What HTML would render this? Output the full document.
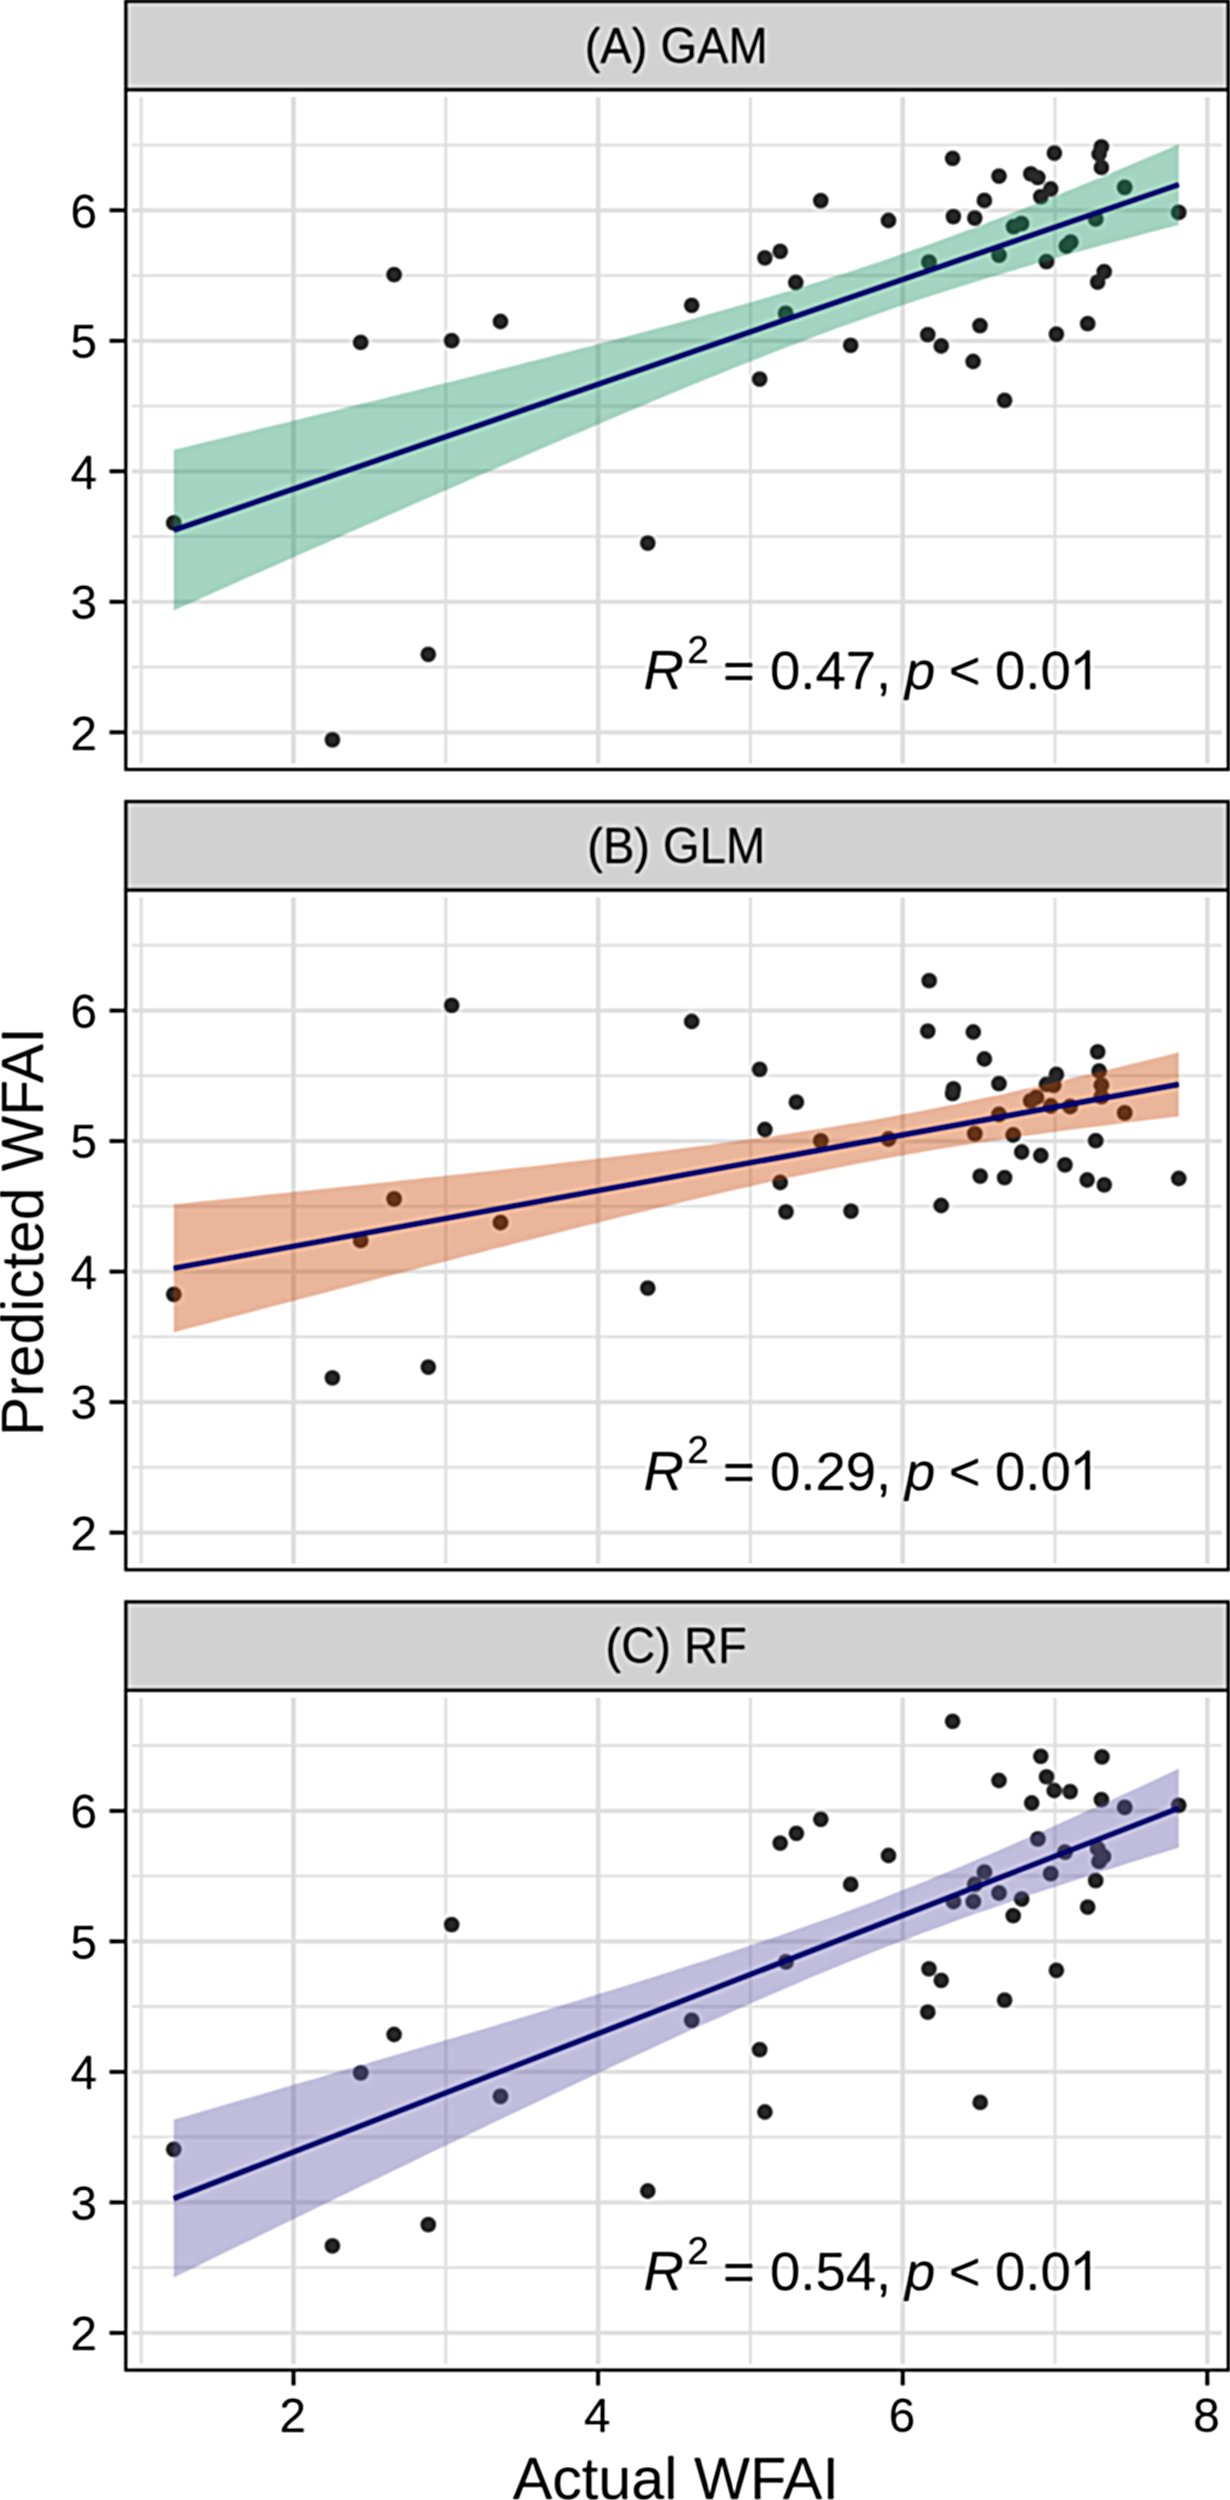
<!DOCTYPE html><html><head><meta charset="utf-8"><style>html,body{margin:0;padding:0;background:#fff;}svg{display:block}text{font-family:"Liberation Sans", sans-serif;}</style></head><body>
<svg width="1230" height="2500" viewBox="0 0 1230 2500">
<defs><filter id="usm" filterUnits="userSpaceOnUse" x="-30" y="-30" width="1290" height="2560" color-interpolation-filters="sRGB"><feGaussianBlur in="SourceGraphic" stdDeviation="0.9" result="s"/><feGaussianBlur in="s" stdDeviation="2.2" result="b"/><feComposite in="s" in2="b" operator="arithmetic" k1="0" k2="1.8" k3="-0.8" k4="0"/></filter></defs>
<g filter="url(#usm)">
<rect x="-30" y="-30" width="1290" height="2560" fill="#fff"/>
<line x1="131.3" x2="1222.3" y1="667.0" y2="667.0" stroke="#e3e3e3" stroke-width="3.0"/>
<line x1="131.3" x2="1222.3" y1="536.5" y2="536.5" stroke="#e3e3e3" stroke-width="3.0"/>
<line x1="131.3" x2="1222.3" y1="406.1" y2="406.1" stroke="#e3e3e3" stroke-width="3.0"/>
<line x1="131.3" x2="1222.3" y1="275.6" y2="275.6" stroke="#e3e3e3" stroke-width="3.0"/>
<line x1="131.3" x2="1222.3" y1="145.1" y2="145.1" stroke="#e3e3e3" stroke-width="3.0"/>
<line x1="141.2" x2="141.2" y1="96.9" y2="764.0" stroke="#e3e3e3" stroke-width="3.2"/>
<line x1="445.8" x2="445.8" y1="96.9" y2="764.0" stroke="#e3e3e3" stroke-width="3.2"/>
<line x1="750.4" x2="750.4" y1="96.9" y2="764.0" stroke="#e3e3e3" stroke-width="3.2"/>
<line x1="1055.0" x2="1055.0" y1="96.9" y2="764.0" stroke="#e3e3e3" stroke-width="3.2"/>
<line x1="131.3" x2="1222.3" y1="732.3" y2="732.3" stroke="#e0e0e0" stroke-width="4.3"/>
<line x1="131.3" x2="1222.3" y1="601.8" y2="601.8" stroke="#e0e0e0" stroke-width="4.3"/>
<line x1="131.3" x2="1222.3" y1="471.3" y2="471.3" stroke="#e0e0e0" stroke-width="4.3"/>
<line x1="131.3" x2="1222.3" y1="340.8" y2="340.8" stroke="#e0e0e0" stroke-width="4.3"/>
<line x1="131.3" x2="1222.3" y1="210.3" y2="210.3" stroke="#e0e0e0" stroke-width="4.3"/>
<line x1="293.5" x2="293.5" y1="96.9" y2="764.0" stroke="#e0e0e0" stroke-width="4.8"/>
<line x1="598.1" x2="598.1" y1="96.9" y2="764.0" stroke="#e0e0e0" stroke-width="4.8"/>
<line x1="902.7" x2="902.7" y1="96.9" y2="764.0" stroke="#e0e0e0" stroke-width="4.8"/>
<line x1="1207.3" x2="1207.3" y1="96.9" y2="764.0" stroke="#e0e0e0" stroke-width="4.8"/>
<circle cx="173.7" cy="522.9" r="7.9" fill="#2b2b2b"/>
<circle cx="332.4" cy="739.8" r="7.9" fill="#2b2b2b"/>
<circle cx="360.7" cy="342.4" r="7.9" fill="#2b2b2b"/>
<circle cx="394.1" cy="274.7" r="7.9" fill="#2b2b2b"/>
<circle cx="428.3" cy="654.3" r="7.9" fill="#2b2b2b"/>
<circle cx="451.7" cy="340.7" r="7.9" fill="#2b2b2b"/>
<circle cx="500.5" cy="321.5" r="7.9" fill="#2b2b2b"/>
<circle cx="647.8" cy="543.1" r="7.9" fill="#2b2b2b"/>
<circle cx="691.7" cy="305.3" r="7.9" fill="#2b2b2b"/>
<circle cx="759.7" cy="379.1" r="7.9" fill="#2b2b2b"/>
<circle cx="764.9" cy="257.8" r="7.9" fill="#2b2b2b"/>
<circle cx="780.2" cy="251.3" r="7.9" fill="#2b2b2b"/>
<circle cx="785.7" cy="313.4" r="7.9" fill="#2b2b2b"/>
<circle cx="795.8" cy="282.5" r="7.9" fill="#2b2b2b"/>
<circle cx="820.8" cy="200.6" r="7.9" fill="#2b2b2b"/>
<circle cx="850.7" cy="345.3" r="7.9" fill="#2b2b2b"/>
<circle cx="888.5" cy="220.5" r="7.9" fill="#2b2b2b"/>
<circle cx="927.8" cy="334.7" r="7.9" fill="#2b2b2b"/>
<circle cx="929.0" cy="262.2" r="7.9" fill="#2b2b2b"/>
<circle cx="941.2" cy="346.0" r="7.9" fill="#2b2b2b"/>
<circle cx="952.6" cy="158.3" r="7.9" fill="#2b2b2b"/>
<circle cx="953.4" cy="216.6" r="7.9" fill="#2b2b2b"/>
<circle cx="973.1" cy="361.5" r="7.9" fill="#2b2b2b"/>
<circle cx="974.8" cy="218.1" r="7.9" fill="#2b2b2b"/>
<circle cx="980.0" cy="325.6" r="7.9" fill="#2b2b2b"/>
<circle cx="984.4" cy="200.4" r="7.9" fill="#2b2b2b"/>
<circle cx="999.0" cy="176.2" r="7.9" fill="#2b2b2b"/>
<circle cx="999.0" cy="255.1" r="7.9" fill="#2b2b2b"/>
<circle cx="1004.6" cy="400.3" r="7.9" fill="#2b2b2b"/>
<circle cx="1013.7" cy="226.6" r="7.9" fill="#2b2b2b"/>
<circle cx="1021.4" cy="223.7" r="7.9" fill="#2b2b2b"/>
<circle cx="1030.8" cy="173.9" r="7.9" fill="#2b2b2b"/>
<circle cx="1037.9" cy="177.6" r="7.9" fill="#2b2b2b"/>
<circle cx="1040.8" cy="196.7" r="7.9" fill="#2b2b2b"/>
<circle cx="1050.7" cy="189.0" r="7.9" fill="#2b2b2b"/>
<circle cx="1054.4" cy="153.2" r="7.9" fill="#2b2b2b"/>
<circle cx="1046.5" cy="261.6" r="7.9" fill="#2b2b2b"/>
<circle cx="1056.4" cy="334.1" r="7.9" fill="#2b2b2b"/>
<circle cx="1066.4" cy="246.0" r="7.9" fill="#2b2b2b"/>
<circle cx="1070.7" cy="242.2" r="7.9" fill="#2b2b2b"/>
<circle cx="1087.7" cy="323.7" r="7.9" fill="#2b2b2b"/>
<circle cx="1095.7" cy="218.9" r="7.9" fill="#2b2b2b"/>
<circle cx="1101.4" cy="146.9" r="7.9" fill="#2b2b2b"/>
<circle cx="1099.1" cy="154.0" r="7.9" fill="#2b2b2b"/>
<circle cx="1101.4" cy="167.4" r="7.9" fill="#2b2b2b"/>
<circle cx="1104.2" cy="271.6" r="7.9" fill="#2b2b2b"/>
<circle cx="1097.7" cy="282.1" r="7.9" fill="#2b2b2b"/>
<circle cx="1124.7" cy="187.3" r="7.9" fill="#2b2b2b"/>
<circle cx="1178.8" cy="212.4" r="7.9" fill="#2b2b2b"/>
<polygon points="173.7,449.8 186.4,446.7 199.1,443.6 211.9,440.5 224.6,437.4 237.3,434.3 250.0,431.2 262.8,428.1 275.5,425.0 288.2,421.9 300.9,418.8 313.7,415.6 326.4,412.5 339.1,409.4 351.8,406.2 364.5,403.1 377.3,399.9 390.0,396.8 402.7,393.6 415.4,390.5 428.2,387.3 440.9,384.1 453.6,380.9 466.3,377.7 479.0,374.5 491.8,371.3 504.5,368.1 517.2,364.9 529.9,361.6 542.7,358.4 555.4,355.1 568.1,351.8 580.8,348.5 593.6,345.2 606.3,341.9 619.0,338.5 631.7,335.1 644.4,331.7 657.2,328.3 669.9,324.9 682.6,321.4 695.3,317.9 708.1,314.3 720.8,310.7 733.5,307.1 746.2,303.4 758.9,299.7 771.7,296.0 784.4,292.2 797.1,288.3 809.8,284.4 822.6,280.4 835.3,276.3 848.0,272.2 860.7,268.0 873.5,263.8 886.2,259.4 898.9,255.0 911.6,250.6 924.3,246.0 937.1,241.4 949.8,236.7 962.5,232.0 975.2,227.2 988.0,222.3 1000.7,217.4 1013.4,212.4 1026.1,207.4 1038.8,202.4 1051.6,197.2 1064.3,192.1 1077.0,186.9 1089.7,181.7 1102.5,176.4 1115.2,171.1 1127.9,165.8 1140.6,160.5 1153.4,155.1 1166.1,149.7 1178.8,144.3 1178.8,224.9 1166.1,228.2 1153.4,231.6 1140.6,234.9 1127.9,238.4 1115.2,241.8 1102.5,245.2 1089.7,248.7 1077.0,252.3 1064.3,255.8 1051.6,259.4 1038.8,263.1 1026.1,266.7 1013.4,270.5 1000.7,274.2 988.0,278.1 975.2,282.0 962.5,285.9 949.8,289.9 937.1,294.0 924.3,298.1 911.6,302.3 898.9,306.6 886.2,311.0 873.5,315.4 860.7,319.9 848.0,324.4 835.3,329.1 822.6,333.8 809.8,338.5 797.1,343.4 784.4,348.2 771.7,353.2 758.9,358.2 746.2,363.2 733.5,368.3 720.8,373.4 708.1,378.6 695.3,383.8 682.6,389.0 669.9,394.3 657.2,399.6 644.4,404.9 631.7,410.3 619.0,415.6 606.3,421.0 593.6,426.4 580.8,431.9 568.1,437.3 555.4,442.8 542.7,448.3 529.9,453.7 517.2,459.3 504.5,464.8 491.8,470.3 479.0,475.8 466.3,481.4 453.6,486.9 440.9,492.5 428.2,498.1 415.4,503.6 402.7,509.2 390.0,514.8 377.3,520.4 364.5,526.0 351.8,531.6 339.1,537.2 326.4,542.9 313.7,548.5 300.9,554.1 288.2,559.7 275.5,565.4 262.8,571.0 250.0,576.6 237.3,582.3 224.6,587.9 211.9,593.6 199.1,599.2 186.4,604.9 173.7,610.6" fill="#199164" fill-opacity="0.4"/>
<line x1="173.7" y1="530.2" x2="1178.8" y2="184.6" stroke="#000070" stroke-width="5.2"/>
<text y="689.3" font-size="54.5" fill="#000"><tspan x="643.4" font-style="italic" font-size="56">R</tspan><tspan x="687.3" y="663.0" font-size="38.8">2</tspan><tspan x="723" y="689.3">=</tspan><tspan x="770">0.47,</tspan><tspan x="905" font-style="italic">p</tspan><tspan x="948.7">&lt;</tspan><tspan x="995">0.0</tspan></text>
<path transform="translate(0,0.0)" d="M1085.2 689.3 L1089.9 689.3 L1089.9 650.4 L1086.4 650.4 C1084.6 654 1080.6 657.8 1075.2 660.4 L1075.2 665.2 C1079.4 663.4 1083 660.6 1085.2 658.2 Z" fill="#000"/>
<rect x="125.8" y="89.7" width="1102.5" height="679.8" fill="none" stroke="#111" stroke-width="3.2"/>
<rect x="125.8" y="1.2" width="1102.5" height="88.5" fill="#d1d1d1" stroke="#111" stroke-width="3.2"/>
<text transform="translate(676.2,62.5) scale(1,1.06)" x="0" y="0" font-size="47.1" text-anchor="middle" fill="#000">(A) GAM</text>
<line x1="109.6" x2="125.8" y1="732.3" y2="732.3" stroke="#111" stroke-width="4"/>
<text x="96.9" y="749.6" font-size="47.6" text-anchor="end" fill="#000">2</text>
<line x1="109.6" x2="125.8" y1="601.8" y2="601.8" stroke="#111" stroke-width="4"/>
<text x="96.9" y="619.1" font-size="47.6" text-anchor="end" fill="#000">3</text>
<line x1="109.6" x2="125.8" y1="471.3" y2="471.3" stroke="#111" stroke-width="4"/>
<text x="96.9" y="488.6" font-size="47.6" text-anchor="end" fill="#000">4</text>
<line x1="109.6" x2="125.8" y1="340.8" y2="340.8" stroke="#111" stroke-width="4"/>
<text x="96.9" y="358.1" font-size="47.6" text-anchor="end" fill="#000">5</text>
<line x1="109.6" x2="125.8" y1="210.3" y2="210.3" stroke="#111" stroke-width="4"/>
<text x="96.9" y="227.6" font-size="47.6" text-anchor="end" fill="#000">6</text>
<line x1="131.3" x2="1222.3" y1="1467.3" y2="1467.3" stroke="#e3e3e3" stroke-width="3.0"/>
<line x1="131.3" x2="1222.3" y1="1336.8" y2="1336.8" stroke="#e3e3e3" stroke-width="3.0"/>
<line x1="131.3" x2="1222.3" y1="1206.3" y2="1206.3" stroke="#e3e3e3" stroke-width="3.0"/>
<line x1="131.3" x2="1222.3" y1="1075.8" y2="1075.8" stroke="#e3e3e3" stroke-width="3.0"/>
<line x1="131.3" x2="1222.3" y1="945.3" y2="945.3" stroke="#e3e3e3" stroke-width="3.0"/>
<line x1="141.2" x2="141.2" y1="897.2" y2="1564.3" stroke="#e3e3e3" stroke-width="3.2"/>
<line x1="445.8" x2="445.8" y1="897.2" y2="1564.3" stroke="#e3e3e3" stroke-width="3.2"/>
<line x1="750.4" x2="750.4" y1="897.2" y2="1564.3" stroke="#e3e3e3" stroke-width="3.2"/>
<line x1="1055.0" x2="1055.0" y1="897.2" y2="1564.3" stroke="#e3e3e3" stroke-width="3.2"/>
<line x1="131.3" x2="1222.3" y1="1532.6" y2="1532.6" stroke="#e0e0e0" stroke-width="4.3"/>
<line x1="131.3" x2="1222.3" y1="1402.1" y2="1402.1" stroke="#e0e0e0" stroke-width="4.3"/>
<line x1="131.3" x2="1222.3" y1="1271.6" y2="1271.6" stroke="#e0e0e0" stroke-width="4.3"/>
<line x1="131.3" x2="1222.3" y1="1141.1" y2="1141.1" stroke="#e0e0e0" stroke-width="4.3"/>
<line x1="131.3" x2="1222.3" y1="1010.6" y2="1010.6" stroke="#e0e0e0" stroke-width="4.3"/>
<line x1="293.5" x2="293.5" y1="897.2" y2="1564.3" stroke="#e0e0e0" stroke-width="4.8"/>
<line x1="598.1" x2="598.1" y1="897.2" y2="1564.3" stroke="#e0e0e0" stroke-width="4.8"/>
<line x1="902.7" x2="902.7" y1="897.2" y2="1564.3" stroke="#e0e0e0" stroke-width="4.8"/>
<line x1="1207.3" x2="1207.3" y1="897.2" y2="1564.3" stroke="#e0e0e0" stroke-width="4.8"/>
<circle cx="173.7" cy="1294.3" r="7.9" fill="#2b2b2b"/>
<circle cx="332.4" cy="1377.8" r="7.9" fill="#2b2b2b"/>
<circle cx="360.7" cy="1240.4" r="7.9" fill="#2b2b2b"/>
<circle cx="394.1" cy="1198.8" r="7.9" fill="#2b2b2b"/>
<circle cx="428.3" cy="1367.1" r="7.9" fill="#2b2b2b"/>
<circle cx="451.7" cy="1005.3" r="7.9" fill="#2b2b2b"/>
<circle cx="500.5" cy="1222.5" r="7.9" fill="#2b2b2b"/>
<circle cx="647.8" cy="1288.2" r="7.9" fill="#2b2b2b"/>
<circle cx="691.7" cy="1021.5" r="7.9" fill="#2b2b2b"/>
<circle cx="759.7" cy="1069.3" r="7.9" fill="#2b2b2b"/>
<circle cx="764.9" cy="1129.5" r="7.9" fill="#2b2b2b"/>
<circle cx="780.2" cy="1182.5" r="7.9" fill="#2b2b2b"/>
<circle cx="786.0" cy="1211.8" r="7.9" fill="#2b2b2b"/>
<circle cx="796.4" cy="1102.2" r="7.9" fill="#2b2b2b"/>
<circle cx="820.8" cy="1140.9" r="7.9" fill="#2b2b2b"/>
<circle cx="851.0" cy="1211.1" r="7.9" fill="#2b2b2b"/>
<circle cx="888.5" cy="1139.0" r="7.9" fill="#2b2b2b"/>
<circle cx="927.8" cy="1031.1" r="7.9" fill="#2b2b2b"/>
<circle cx="929.2" cy="980.7" r="7.9" fill="#2b2b2b"/>
<circle cx="941.2" cy="1205.5" r="7.9" fill="#2b2b2b"/>
<circle cx="952.6" cy="1093.7" r="7.9" fill="#2b2b2b"/>
<circle cx="953.4" cy="1088.9" r="7.9" fill="#2b2b2b"/>
<circle cx="973.3" cy="1032.0" r="7.9" fill="#2b2b2b"/>
<circle cx="974.8" cy="1133.6" r="7.9" fill="#2b2b2b"/>
<circle cx="980.2" cy="1176.2" r="7.9" fill="#2b2b2b"/>
<circle cx="984.4" cy="1059.0" r="7.9" fill="#2b2b2b"/>
<circle cx="999.0" cy="1083.7" r="7.9" fill="#2b2b2b"/>
<circle cx="999.0" cy="1114.5" r="7.9" fill="#2b2b2b"/>
<circle cx="1004.6" cy="1177.7" r="7.9" fill="#2b2b2b"/>
<circle cx="1013.2" cy="1135.0" r="7.9" fill="#2b2b2b"/>
<circle cx="1021.7" cy="1152.0" r="7.9" fill="#2b2b2b"/>
<circle cx="1030.8" cy="1100.8" r="7.9" fill="#2b2b2b"/>
<circle cx="1036.5" cy="1097.4" r="7.9" fill="#2b2b2b"/>
<circle cx="1040.8" cy="1155.5" r="7.9" fill="#2b2b2b"/>
<circle cx="1046.5" cy="1084.3" r="7.9" fill="#2b2b2b"/>
<circle cx="1050.7" cy="1106.0" r="7.9" fill="#2b2b2b"/>
<circle cx="1053.6" cy="1085.2" r="7.9" fill="#2b2b2b"/>
<circle cx="1056.4" cy="1074.4" r="7.9" fill="#2b2b2b"/>
<circle cx="1065.0" cy="1164.8" r="7.9" fill="#2b2b2b"/>
<circle cx="1070.1" cy="1106.5" r="7.9" fill="#2b2b2b"/>
<circle cx="1087.2" cy="1180.0" r="7.9" fill="#2b2b2b"/>
<circle cx="1095.7" cy="1140.7" r="7.9" fill="#2b2b2b"/>
<circle cx="1097.7" cy="1051.9" r="7.9" fill="#2b2b2b"/>
<circle cx="1099.1" cy="1071.0" r="7.9" fill="#2b2b2b"/>
<circle cx="1101.4" cy="1085.2" r="7.9" fill="#2b2b2b"/>
<circle cx="1101.4" cy="1096.6" r="7.9" fill="#2b2b2b"/>
<circle cx="1104.2" cy="1184.8" r="7.9" fill="#2b2b2b"/>
<circle cx="1124.7" cy="1112.8" r="7.9" fill="#2b2b2b"/>
<circle cx="1178.8" cy="1178.5" r="7.9" fill="#2b2b2b"/>
<polygon points="173.7,1204.2 186.4,1202.9 199.1,1201.6 211.9,1200.3 224.6,1199.0 237.3,1197.7 250.0,1196.4 262.8,1195.0 275.5,1193.7 288.2,1192.4 300.9,1191.1 313.7,1189.7 326.4,1188.4 339.1,1187.1 351.8,1185.7 364.5,1184.4 377.3,1183.0 390.0,1181.7 402.7,1180.3 415.4,1179.0 428.2,1177.6 440.9,1176.2 453.6,1174.8 466.3,1173.5 479.0,1172.1 491.8,1170.7 504.5,1169.3 517.2,1167.8 529.9,1166.4 542.7,1165.0 555.4,1163.5 568.1,1162.1 580.8,1160.6 593.6,1159.1 606.3,1157.6 619.0,1156.1 631.7,1154.6 644.4,1153.0 657.2,1151.4 669.9,1149.9 682.6,1148.2 695.3,1146.6 708.1,1144.9 720.8,1143.2 733.5,1141.5 746.2,1139.7 758.9,1137.9 771.7,1136.1 784.4,1134.2 797.1,1132.3 809.8,1130.3 822.6,1128.3 835.3,1126.2 848.0,1124.1 860.7,1121.9 873.5,1119.7 886.2,1117.4 898.9,1115.1 911.6,1112.7 924.3,1110.2 937.1,1107.7 949.8,1105.1 962.5,1102.5 975.2,1099.8 988.0,1097.1 1000.7,1094.4 1013.4,1091.6 1026.1,1088.7 1038.8,1085.8 1051.6,1082.9 1064.3,1080.0 1077.0,1077.0 1089.7,1074.0 1102.5,1070.9 1115.2,1067.9 1127.9,1064.8 1140.6,1061.7 1153.4,1058.6 1166.1,1055.5 1178.8,1052.3 1178.8,1116.6 1166.1,1118.1 1153.4,1119.6 1140.6,1121.1 1127.9,1122.7 1115.2,1124.3 1102.5,1125.9 1089.7,1127.5 1077.0,1129.1 1064.3,1130.8 1051.6,1132.5 1038.8,1134.2 1026.1,1136.0 1013.4,1137.8 1000.7,1139.7 988.0,1141.6 975.2,1143.5 962.5,1145.5 949.8,1147.5 937.1,1149.6 924.3,1151.8 911.6,1154.0 898.9,1156.2 886.2,1158.5 873.5,1160.9 860.7,1163.3 848.0,1165.8 835.3,1168.3 822.6,1170.9 809.8,1173.5 797.1,1176.2 784.4,1179.0 771.7,1181.7 758.9,1184.6 746.2,1187.4 733.5,1190.3 720.8,1193.2 708.1,1196.2 695.3,1199.2 682.6,1202.2 669.9,1205.2 657.2,1208.3 644.4,1211.4 631.7,1214.5 619.0,1217.6 606.3,1220.8 593.6,1223.9 580.8,1227.1 568.1,1230.3 555.4,1233.5 542.7,1236.7 529.9,1239.9 517.2,1243.1 504.5,1246.4 491.8,1249.6 479.0,1252.9 466.3,1256.1 453.6,1259.4 440.9,1262.7 428.2,1265.9 415.4,1269.2 402.7,1272.5 390.0,1275.8 377.3,1279.1 364.5,1282.4 351.8,1285.8 339.1,1289.1 326.4,1292.4 313.7,1295.7 300.9,1299.0 288.2,1302.4 275.5,1305.7 262.8,1309.0 250.0,1312.4 237.3,1315.7 224.6,1319.1 211.9,1322.4 199.1,1325.7 186.4,1329.1 173.7,1332.4" fill="#C84605" fill-opacity="0.4"/>
<line x1="173.7" y1="1268.3" x2="1178.8" y2="1084.4" stroke="#000070" stroke-width="5.2"/>
<text y="1489.6" font-size="54.5" fill="#000"><tspan x="643.4" font-style="italic" font-size="56">R</tspan><tspan x="687.3" y="1463.3" font-size="38.8">2</tspan><tspan x="723" y="1489.6">=</tspan><tspan x="770">0.29,</tspan><tspan x="905" font-style="italic">p</tspan><tspan x="948.7">&lt;</tspan><tspan x="995">0.0</tspan></text>
<path transform="translate(0,800.3)" d="M1085.2 689.3 L1089.9 689.3 L1089.9 650.4 L1086.4 650.4 C1084.6 654 1080.6 657.8 1075.2 660.4 L1075.2 665.2 C1079.4 663.4 1083 660.6 1085.2 658.2 Z" fill="#000"/>
<rect x="125.8" y="890.0" width="1102.5" height="679.8" fill="none" stroke="#111" stroke-width="3.2"/>
<rect x="125.8" y="801.5" width="1102.5" height="88.5" fill="#d1d1d1" stroke="#111" stroke-width="3.2"/>
<text transform="translate(676.2,862.8) scale(1,1.06)" x="0" y="0" font-size="47.1" text-anchor="middle" fill="#000">(B) GLM</text>
<line x1="109.6" x2="125.8" y1="1532.6" y2="1532.6" stroke="#111" stroke-width="4"/>
<text x="96.9" y="1549.9" font-size="47.6" text-anchor="end" fill="#000">2</text>
<line x1="109.6" x2="125.8" y1="1402.1" y2="1402.1" stroke="#111" stroke-width="4"/>
<text x="96.9" y="1419.4" font-size="47.6" text-anchor="end" fill="#000">3</text>
<line x1="109.6" x2="125.8" y1="1271.6" y2="1271.6" stroke="#111" stroke-width="4"/>
<text x="96.9" y="1288.9" font-size="47.6" text-anchor="end" fill="#000">4</text>
<line x1="109.6" x2="125.8" y1="1141.1" y2="1141.1" stroke="#111" stroke-width="4"/>
<text x="96.9" y="1158.4" font-size="47.6" text-anchor="end" fill="#000">5</text>
<line x1="109.6" x2="125.8" y1="1010.6" y2="1010.6" stroke="#111" stroke-width="4"/>
<text x="96.9" y="1027.9" font-size="47.6" text-anchor="end" fill="#000">6</text>
<line x1="131.3" x2="1222.3" y1="2267.6" y2="2267.6" stroke="#e3e3e3" stroke-width="3.0"/>
<line x1="131.3" x2="1222.3" y1="2137.1" y2="2137.1" stroke="#e3e3e3" stroke-width="3.0"/>
<line x1="131.3" x2="1222.3" y1="2006.6" y2="2006.6" stroke="#e3e3e3" stroke-width="3.0"/>
<line x1="131.3" x2="1222.3" y1="1876.1" y2="1876.1" stroke="#e3e3e3" stroke-width="3.0"/>
<line x1="131.3" x2="1222.3" y1="1745.6" y2="1745.6" stroke="#e3e3e3" stroke-width="3.0"/>
<line x1="141.2" x2="141.2" y1="1697.5" y2="2364.6" stroke="#e3e3e3" stroke-width="3.2"/>
<line x1="445.8" x2="445.8" y1="1697.5" y2="2364.6" stroke="#e3e3e3" stroke-width="3.2"/>
<line x1="750.4" x2="750.4" y1="1697.5" y2="2364.6" stroke="#e3e3e3" stroke-width="3.2"/>
<line x1="1055.0" x2="1055.0" y1="1697.5" y2="2364.6" stroke="#e3e3e3" stroke-width="3.2"/>
<line x1="131.3" x2="1222.3" y1="2332.9" y2="2332.9" stroke="#e0e0e0" stroke-width="4.3"/>
<line x1="131.3" x2="1222.3" y1="2202.4" y2="2202.4" stroke="#e0e0e0" stroke-width="4.3"/>
<line x1="131.3" x2="1222.3" y1="2071.9" y2="2071.9" stroke="#e0e0e0" stroke-width="4.3"/>
<line x1="131.3" x2="1222.3" y1="1941.4" y2="1941.4" stroke="#e0e0e0" stroke-width="4.3"/>
<line x1="131.3" x2="1222.3" y1="1810.9" y2="1810.9" stroke="#e0e0e0" stroke-width="4.3"/>
<line x1="293.5" x2="293.5" y1="1697.5" y2="2364.6" stroke="#e0e0e0" stroke-width="4.8"/>
<line x1="598.1" x2="598.1" y1="1697.5" y2="2364.6" stroke="#e0e0e0" stroke-width="4.8"/>
<line x1="902.7" x2="902.7" y1="1697.5" y2="2364.6" stroke="#e0e0e0" stroke-width="4.8"/>
<line x1="1207.3" x2="1207.3" y1="1697.5" y2="2364.6" stroke="#e0e0e0" stroke-width="4.8"/>
<circle cx="173.7" cy="2149.3" r="7.9" fill="#2b2b2b"/>
<circle cx="332.4" cy="2245.9" r="7.9" fill="#2b2b2b"/>
<circle cx="360.7" cy="2072.8" r="7.9" fill="#2b2b2b"/>
<circle cx="394.1" cy="2034.5" r="7.9" fill="#2b2b2b"/>
<circle cx="428.3" cy="2224.7" r="7.9" fill="#2b2b2b"/>
<circle cx="451.7" cy="1924.6" r="7.9" fill="#2b2b2b"/>
<circle cx="500.5" cy="2096.3" r="7.9" fill="#2b2b2b"/>
<circle cx="647.8" cy="2191.0" r="7.9" fill="#2b2b2b"/>
<circle cx="691.7" cy="2020.3" r="7.9" fill="#2b2b2b"/>
<circle cx="759.7" cy="2049.6" r="7.9" fill="#2b2b2b"/>
<circle cx="764.9" cy="2112.0" r="7.9" fill="#2b2b2b"/>
<circle cx="780.2" cy="1843.1" r="7.9" fill="#2b2b2b"/>
<circle cx="786.0" cy="1961.8" r="7.9" fill="#2b2b2b"/>
<circle cx="796.4" cy="1833.3" r="7.9" fill="#2b2b2b"/>
<circle cx="820.8" cy="1819.3" r="7.9" fill="#2b2b2b"/>
<circle cx="850.7" cy="1884.4" r="7.9" fill="#2b2b2b"/>
<circle cx="888.5" cy="1855.5" r="7.9" fill="#2b2b2b"/>
<circle cx="927.8" cy="2012.2" r="7.9" fill="#2b2b2b"/>
<circle cx="929.0" cy="1968.9" r="7.9" fill="#2b2b2b"/>
<circle cx="941.2" cy="1980.3" r="7.9" fill="#2b2b2b"/>
<circle cx="952.6" cy="1721.3" r="7.9" fill="#2b2b2b"/>
<circle cx="953.4" cy="1901.5" r="7.9" fill="#2b2b2b"/>
<circle cx="973.3" cy="1901.5" r="7.9" fill="#2b2b2b"/>
<circle cx="974.8" cy="1884.4" r="7.9" fill="#2b2b2b"/>
<circle cx="980.2" cy="2102.4" r="7.9" fill="#2b2b2b"/>
<circle cx="984.4" cy="1872.2" r="7.9" fill="#2b2b2b"/>
<circle cx="999.0" cy="1780.5" r="7.9" fill="#2b2b2b"/>
<circle cx="999.0" cy="1893.0" r="7.9" fill="#2b2b2b"/>
<circle cx="1004.6" cy="2000.2" r="7.9" fill="#2b2b2b"/>
<circle cx="1013.2" cy="1915.7" r="7.9" fill="#2b2b2b"/>
<circle cx="1021.7" cy="1899.2" r="7.9" fill="#2b2b2b"/>
<circle cx="1031.7" cy="1803.0" r="7.9" fill="#2b2b2b"/>
<circle cx="1037.9" cy="1838.9" r="7.9" fill="#2b2b2b"/>
<circle cx="1040.8" cy="1756.3" r="7.9" fill="#2b2b2b"/>
<circle cx="1050.7" cy="1873.6" r="7.9" fill="#2b2b2b"/>
<circle cx="1054.2" cy="1790.5" r="7.9" fill="#2b2b2b"/>
<circle cx="1046.5" cy="1776.8" r="7.9" fill="#2b2b2b"/>
<circle cx="1056.4" cy="1970.3" r="7.9" fill="#2b2b2b"/>
<circle cx="1065.0" cy="1852.2" r="7.9" fill="#2b2b2b"/>
<circle cx="1070.1" cy="1791.6" r="7.9" fill="#2b2b2b"/>
<circle cx="1087.7" cy="1907.2" r="7.9" fill="#2b2b2b"/>
<circle cx="1095.7" cy="1880.7" r="7.9" fill="#2b2b2b"/>
<circle cx="1102.0" cy="1756.9" r="7.9" fill="#2b2b2b"/>
<circle cx="1101.4" cy="1799.6" r="7.9" fill="#2b2b2b"/>
<circle cx="1097.7" cy="1848.5" r="7.9" fill="#2b2b2b"/>
<circle cx="1103.4" cy="1856.5" r="7.9" fill="#2b2b2b"/>
<circle cx="1099.1" cy="1861.4" r="7.9" fill="#2b2b2b"/>
<circle cx="1124.7" cy="1807.3" r="7.9" fill="#2b2b2b"/>
<circle cx="1178.8" cy="1805.3" r="7.9" fill="#2b2b2b"/>
<polygon points="173.7,2119.5 186.4,2115.9 199.1,2112.2 211.9,2108.5 224.6,2104.8 237.3,2101.1 250.0,2097.4 262.8,2093.7 275.5,2090.0 288.2,2086.3 300.9,2082.6 313.7,2078.9 326.4,2075.2 339.1,2071.5 351.8,2067.7 364.5,2064.0 377.3,2060.3 390.0,2056.5 402.7,2052.8 415.4,2049.0 428.2,2045.3 440.9,2041.5 453.6,2037.7 466.3,2034.0 479.0,2030.2 491.8,2026.4 504.5,2022.6 517.2,2018.7 529.9,2014.9 542.7,2011.1 555.4,2007.2 568.1,2003.3 580.8,1999.4 593.6,1995.5 606.3,1991.6 619.0,1987.7 631.7,1983.7 644.4,1979.7 657.2,1975.7 669.9,1971.7 682.6,1967.6 695.3,1963.5 708.1,1959.4 720.8,1955.2 733.5,1951.0 746.2,1946.8 758.9,1942.5 771.7,1938.2 784.4,1933.8 797.1,1929.3 809.8,1924.8 822.6,1920.3 835.3,1915.7 848.0,1911.0 860.7,1906.2 873.5,1901.4 886.2,1896.5 898.9,1891.5 911.6,1886.5 924.3,1881.4 937.1,1876.2 949.8,1871.0 962.5,1865.7 975.2,1860.3 988.0,1854.9 1000.7,1849.4 1013.4,1843.9 1026.1,1838.3 1038.8,1832.7 1051.6,1827.0 1064.3,1821.3 1077.0,1815.6 1089.7,1809.8 1102.5,1804.0 1115.2,1798.1 1127.9,1792.3 1140.6,1786.4 1153.4,1780.5 1166.1,1774.5 1178.8,1768.6 1178.8,1847.7 1166.1,1851.7 1153.4,1855.6 1140.6,1859.6 1127.9,1863.6 1115.2,1867.6 1102.5,1871.6 1089.7,1875.7 1077.0,1879.8 1064.3,1883.9 1051.6,1888.1 1038.8,1892.3 1026.1,1896.6 1013.4,1900.9 1000.7,1905.3 988.0,1909.7 975.2,1914.1 962.5,1918.6 949.8,1923.2 937.1,1927.9 924.3,1932.6 911.6,1937.4 898.9,1942.2 886.2,1947.1 873.5,1952.1 860.7,1957.2 848.0,1962.3 835.3,1967.5 822.6,1972.8 809.8,1978.1 797.1,1983.5 784.4,1988.9 771.7,1994.4 758.9,1999.9 746.2,2005.5 733.5,2011.2 720.8,2016.9 708.1,2022.6 695.3,2028.3 682.6,2034.1 669.9,2039.9 657.2,2045.8 644.4,2051.7 631.7,2057.6 619.0,2063.5 606.3,2069.4 593.6,2075.4 580.8,2081.4 568.1,2087.4 555.4,2093.4 542.7,2099.4 529.9,2105.4 517.2,2111.5 504.5,2117.6 491.8,2123.6 479.0,2129.7 466.3,2135.8 453.6,2141.9 440.9,2148.0 428.2,2154.1 415.4,2160.3 402.7,2166.4 390.0,2172.5 377.3,2178.7 364.5,2184.8 351.8,2191.0 339.1,2197.1 326.4,2203.3 313.7,2209.5 300.9,2215.7 288.2,2221.8 275.5,2228.0 262.8,2234.2 250.0,2240.4 237.3,2246.6 224.6,2252.8 211.9,2259.0 199.1,2265.2 186.4,2271.4 173.7,2277.6" fill="#625AA8" fill-opacity="0.4"/>
<line x1="173.7" y1="2198.5" x2="1178.8" y2="1808.1" stroke="#000070" stroke-width="5.2"/>
<text y="2289.9" font-size="54.5" fill="#000"><tspan x="643.4" font-style="italic" font-size="56">R</tspan><tspan x="687.3" y="2263.6" font-size="38.8">2</tspan><tspan x="723" y="2289.9">=</tspan><tspan x="770">0.54,</tspan><tspan x="905" font-style="italic">p</tspan><tspan x="948.7">&lt;</tspan><tspan x="995">0.0</tspan></text>
<path transform="translate(0,1600.6)" d="M1085.2 689.3 L1089.9 689.3 L1089.9 650.4 L1086.4 650.4 C1084.6 654 1080.6 657.8 1075.2 660.4 L1075.2 665.2 C1079.4 663.4 1083 660.6 1085.2 658.2 Z" fill="#000"/>
<rect x="125.8" y="1690.3" width="1102.5" height="679.8" fill="none" stroke="#111" stroke-width="3.2"/>
<rect x="125.8" y="1601.8" width="1102.5" height="88.5" fill="#d1d1d1" stroke="#111" stroke-width="3.2"/>
<text transform="translate(676.2,1663.1) scale(1,1.06)" x="0" y="0" font-size="47.1" text-anchor="middle" fill="#000">(C) RF</text>
<line x1="109.6" x2="125.8" y1="2332.9" y2="2332.9" stroke="#111" stroke-width="4"/>
<text x="96.9" y="2350.2" font-size="47.6" text-anchor="end" fill="#000">2</text>
<line x1="109.6" x2="125.8" y1="2202.4" y2="2202.4" stroke="#111" stroke-width="4"/>
<text x="96.9" y="2219.7" font-size="47.6" text-anchor="end" fill="#000">3</text>
<line x1="109.6" x2="125.8" y1="2071.9" y2="2071.9" stroke="#111" stroke-width="4"/>
<text x="96.9" y="2089.2" font-size="47.6" text-anchor="end" fill="#000">4</text>
<line x1="109.6" x2="125.8" y1="1941.4" y2="1941.4" stroke="#111" stroke-width="4"/>
<text x="96.9" y="1958.7" font-size="47.6" text-anchor="end" fill="#000">5</text>
<line x1="109.6" x2="125.8" y1="1810.9" y2="1810.9" stroke="#111" stroke-width="4"/>
<text x="96.9" y="1828.2" font-size="47.6" text-anchor="end" fill="#000">6</text>
<line x1="293.5" x2="293.5" y1="2370.1" y2="2385.4" stroke="#111" stroke-width="4"/>
<text x="292.7" y="2431.8" font-size="47.6" text-anchor="middle" fill="#000">2</text>
<line x1="598.1" x2="598.1" y1="2370.1" y2="2385.4" stroke="#111" stroke-width="4"/>
<text x="597.3" y="2431.8" font-size="47.6" text-anchor="middle" fill="#000">4</text>
<line x1="902.7" x2="902.7" y1="2370.1" y2="2385.4" stroke="#111" stroke-width="4"/>
<text x="901.9" y="2431.8" font-size="47.6" text-anchor="middle" fill="#000">6</text>
<line x1="1207.3" x2="1207.3" y1="2370.1" y2="2385.4" stroke="#111" stroke-width="4"/>
<text x="1206.5" y="2431.8" font-size="47.6" text-anchor="middle" fill="#000">8</text>
<text x="675.8" y="2498.5" font-size="59.3" text-anchor="middle" fill="#000">Actual WFAI</text>
<text transform="translate(42.5,1231.75) rotate(-90)" x="0" y="0" font-size="58.8" text-anchor="middle" fill="#000">Predicted WFAI</text>
</g></svg></body></html>
